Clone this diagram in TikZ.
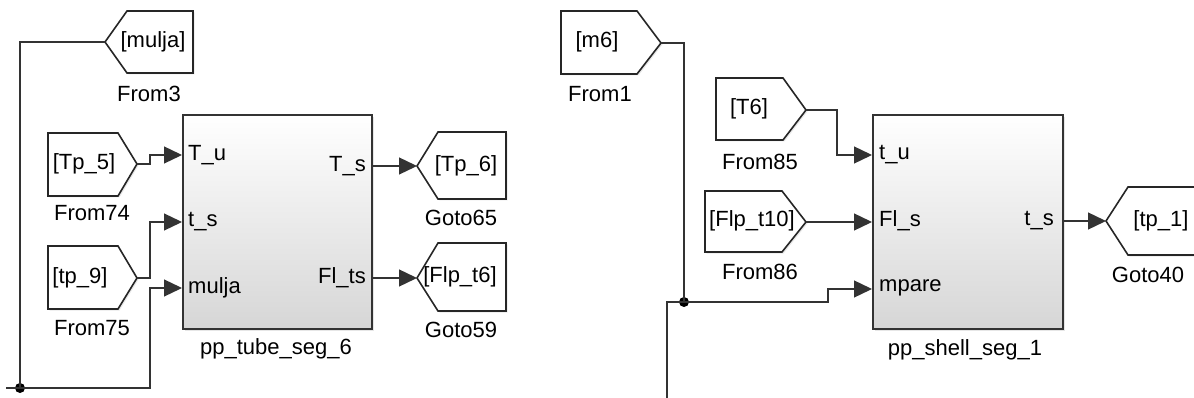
\documentclass[tikz,border=0pt]{standalone}
\usepackage{fontspec}
\setmainfont{Liberation Sans}
\usetikzlibrary{arrows.meta,shadows}
\begin{document}
\begin{tikzpicture}[x=1pt,y=-1pt,
  wire/.style={draw=black!80,line width=1.3pt},
  arr/.style={wire,-{Triangle[length=18pt,width=17pt]}},
  tagshape/.style={draw=black!85,line width=1.6pt,fill=white,line join=miter,
     drop shadow={shadow xshift=1.5pt,shadow yshift=-1.5pt,opacity=0.18}},
  blk/.style={draw=black!80,line width=1.7pt,top color=white,middle color=white,bottom color=black!16,
     drop shadow={shadow xshift=2pt,shadow yshift=-2pt,opacity=0.2},
     anchor=north west,inner sep=0pt},
  txt/.style={font=\fontsize{22pt}{25pt}\selectfont,inner sep=0pt,text=black},
  dotn/.style={circle,fill=black,inner sep=0pt,minimum size=10pt}
]
\useasboundingbox (0,0) rectangle (1194,398);

% ---------- left subsystem ----------
\node[blk,minimum width=189pt,minimum height=214pt] (b1) at (182,114) {};
\node[txt] (b1c) at (276,349) {pp\_tube\_seg\_6};
\node[txt,anchor=west] (b1p1) at (188,155) {T\_u};
\node[txt,anchor=west] (b1p2) at (188,222) {t\_s};
\node[txt,anchor=west] (b1p3) at (188,288) {mulja};
\node[txt,anchor=east] (b1o1) at (366,166) {T\_s};
\node[txt,anchor=east] (b1o2) at (366,278) {Fl\_ts};
\coordinate (b1i1) at (182,155);
\coordinate (b1i2) at (182,222);
\coordinate (b1i3) at (182,288);
\coordinate (b1q1) at (371,166);
\coordinate (b1q2) at (371,278);

% From3 (pointing left)
\path[tagshape] (105,42) -- (127,11) -- (193,11) -- (193,73) -- (127,73) -- cycle;
\coordinate (f3) at (105,42);
\node[txt] (f3t) at (153,42) {[mulja]};
\node[txt] (f3c) at (149,94) {From3};

% From74
\path[tagshape] (48,133) -- (118,133) -- (137,164) -- (118,196) -- (48,196) -- cycle;
\coordinate (f74) at (137,164);
\node[txt] (f74t) at (84,164) {[Tp\_5]};
\node[txt] (f74c) at (92,213) {From74};

% From75
\path[tagshape] (48,246) -- (118,246) -- (137,278) -- (118,309) -- (48,309) -- cycle;
\coordinate (f75) at (137,278);
\node[txt] (f75t) at (80,278) {[tp\_9]};
\node[txt] (f75c) at (92,328) {From75};

% Goto65
\path[tagshape] (417,166) -- (438,132) -- (506,132) -- (506,199) -- (438,199) -- cycle;
\coordinate (g65) at (417,166);
\node[txt] (g65t) at (466,166) {[Tp\_6]};
\node[txt] (g65c) at (461,218) {Goto65};

% Goto59
\path[tagshape] (417,278) -- (438,243) -- (506,243) -- (506,311) -- (438,311) -- cycle;
\coordinate (g59) at (417,278);
\node[txt] (g59t) at (460,277) {[Flp\_t6]};
\node[txt] (g59c) at (461,330) {Goto59};

% wires left
\node[dotn] (d1) at (20,388) {};
\coordinate (e1) at (6,388);
\draw[wire] (f3) -- (20,42) -- (d1.center);
\draw[wire] (d1.center) -- (e1);
\draw[arr] (d1.center) -- (150,388) -- (150,288) -- (b1i3);
\draw[arr] (f74) -- (150,164) -- (150,155) -- (b1i1);
\draw[arr] (f75) -- (150,278) -- (150,222) -- (b1i2);
\draw[arr] (b1q1) -- (g65);
\draw[arr] (b1q2) -- (g59);

% ---------- right subsystem ----------
\node[blk,minimum width=190pt,minimum height=214pt] (b2) at (872,114) {};
\node[txt] (b2c) at (965,350) {pp\_shell\_seg\_1};
\node[txt,anchor=west] (b2p1) at (879,155) {t\_u};
\node[txt,anchor=west] (b2p2) at (879,221) {Fl\_s};
\node[txt,anchor=west] (b2p3) at (879,288) {mpare};
\node[txt,anchor=east] (b2o1) at (1054,221) {t\_s};
\coordinate (b2i1) at (872,155);
\coordinate (b2i2) at (872,222);
\coordinate (b2i3) at (872,289);
\coordinate (b2q1) at (1062,221);

% From1
\path[tagshape] (561,11) -- (637,11) -- (661,43) -- (637,74) -- (561,74) -- cycle;
\coordinate (f1) at (661,43);
\node[txt] (f1t) at (597,42) {[m6]};
\node[txt] (f1c) at (600,94) {From1};

% From85
\path[tagshape] (716,78) -- (783,78) -- (806,110) -- (783,140) -- (716,140) -- cycle;
\coordinate (f85) at (806,110);
\node[txt] (f85t) at (749,109) {[T6]};
\node[txt] (f85c) at (760,162) {From85};

% From86
\path[tagshape] (705,191) -- (782,191) -- (806,222) -- (782,252) -- (705,252) -- cycle;
\coordinate (f86) at (806,222);
\node[txt] (f86t) at (752,221) {[Flp\_t10]};
\node[txt] (f86c) at (760,272) {From86};

% Goto40
\path[tagshape] (1200,187) -- (1128,187) -- (1106,221) -- (1128,255) -- (1200,255);
\coordinate (g40) at (1106,221);
\node[txt] (g40t) at (1161,221) {[tp\_1]};
\node[txt] (g40c) at (1148,275) {Goto40};

% wires right
\node[dotn] (d2) at (684,302) {};
\coordinate (e2) at (667,400);
\draw[wire] (f1) -- (684,43) -- (d2.center);
\draw[wire] (d2.center) -- (667,302) -- (e2);
\draw[arr] (d2.center) -- (828,302) -- (828,289) -- (b2i3);
\draw[arr] (f85) -- (837,110) -- (837,155) -- (b2i1);
\draw[arr] (f86) -- (b2i2);
\draw[arr] (b2q1) -- (g40);
\end{tikzpicture}
\end{document}
